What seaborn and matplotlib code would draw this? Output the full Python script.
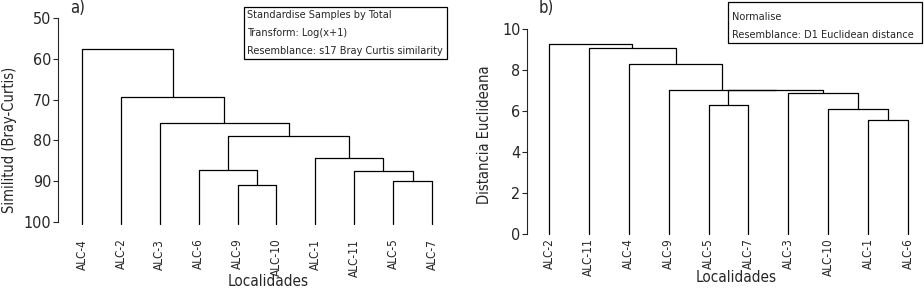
"""
Dendrogramas de localidades (ALC-1 ... ALC-11)
a) similitud Bray-Curtis, b) distancia euclideana.
"""

import matplotlib
matplotlib.use("Agg")

import matplotlib.pyplot as plt
import pandas as pd
import seaborn as sns
from matplotlib import font_manager
from matplotlib.patches import Rectangle

# ---------------------------------------------------------------------------
# Data
# merges: left child, right child, height; int children refer to earlier merges
# ---------------------------------------------------------------------------

BC_LEAVES = ["ALC-4", "ALC-2", "ALC-3", "ALC-6", "ALC-9", "ALC-10",
             "ALC-1", "ALC-11", "ALC-5", "ALC-7"]
BC_LEFT   = ["ALC-9", "ALC-6", "ALC-5", "ALC-11", "ALC-1", 1, "ALC-3", "ALC-2", "ALC-4"]
BC_RIGHT  = ["ALC-10", 0, "ALC-7", 2, 3, 4, 5, 6, 7]
BC_HEIGHT = [91.0, 87.3, 90.0, 87.6, 84.4, 79.0, 75.8, 69.4, 57.6]
BC_TICKS  = [50, 60, 70, 80, 90, 100]

EU_LEAVES = ["ALC-2", "ALC-11", "ALC-4", "ALC-9", "ALC-5", "ALC-7",
             "ALC-3", "ALC-10", "ALC-1", "ALC-6"]
EU_LEFT   = ["ALC-1", "ALC-10", "ALC-3", "ALC-5", 3, "ALC-9", "ALC-4", "ALC-11", "ALC-2"]
EU_RIGHT  = ["ALC-6", 0, 1, "ALC-7", 2, 4, 5, 6, 7]
EU_HEIGHT = [5.55, 6.12, 6.86, 6.27, 7.01, 7.01, 8.28, 9.06, 9.25]
EU_TICKS  = [0, 2, 4, 6, 8, 10]

BC_NOTE = ["Standardise Samples by Total", "Transform: Log(x+1)",
           "Resemblance: s17 Bray Curtis similarity"]
EU_NOTE = ["Normalise", "Resemblance: D1 Euclidean distance"]

W, H = 924, 290

sns.set_style("ticks")

# the original uses a condensed grotesque; take the narrowest face we have
_faces = {(f.name, f.stretch) for f in font_manager.fontManager.ttflist}
if any(n == "Liberation Sans Narrow" for n, _ in _faces):
    plt.rcParams["font.family"] = ["Liberation Sans Narrow", "DejaVu Sans"]
elif ("DejaVu Sans", "condensed") in _faces:
    plt.rcParams["font.family"] = ["DejaVu Sans"]
    plt.rcParams["font.stretch"] = "condensed"
else:
    plt.rcParams["font.family"] = ["Liberation Sans", "DejaVu Sans"]


def dendro_segments(leaves, left, right, height, base):
    pos = {name: (float(i), base) for i, name in enumerate(leaves)}
    rows = []
    for k, (a, b, h) in enumerate(zip(left, right, height)):
        xa, ha = pos[a]
        xb, hb = pos[b]
        for x, y in [(xa, ha), (xa, h), (xb, h), (xb, hb)]:
            rows.append({"link": k, "x": x, "y": y})
        pos[k] = ((xa + xb) / 2, h)
    return pd.DataFrame(rows)


def px_axes(fig, x0, y_top, x1, y_bot):
    return fig.add_axes([x0 / W, 1 - y_bot / H, (x1 - x0) / W, (y_bot - y_top) / H])


def draw_panel(ax, seg, leaves, ticks, ylim, xlim, pad):
    sns.lineplot(data=seg, x="x", y="y", units="link", estimator=None, sort=False,
                 color="black", lw=0.9, ax=ax, legend=False, clip_on=False)
    ax.set_xlim(*xlim)
    ax.set_ylim(*ylim)
    ax.set_yticks(ticks)
    ax.set_xticks(range(len(leaves)))
    ax.set_xticklabels(leaves, rotation=90, fontsize=8.5, va="top")
    ax.tick_params(axis="x", length=0, pad=pad)
    ax.tick_params(axis="y", length=3.8, width=0.8, pad=1, labelsize=11.5)
    ax.set_xlabel("")
    ax.set_ylabel("")
    sns.despine(ax=ax, bottom=True)
    ax.spines["left"].set_linewidth(0.8)


def note_box(fig, lines, x0, y0, x1, y1, tx, ty0, dy):
    fig.add_artist(Rectangle((x0 / W, 1 - y1 / H), (x1 - x0) / W, (y1 - y0) / H,
                             transform=fig.transFigure, fill=False,
                             edgecolor="black", lw=0.9))
    for i, line in enumerate(lines):
        fig.text(tx / W, 1 - (ty0 + i * dy) / H, line, fontsize=7.8,
                 ha="left", va="center")


fig = plt.figure(figsize=(W / 100, H / 100), dpi=100)

# a) Bray-Curtis
ax1 = px_axes(fig, 58, 18, 460, 222)
bc = dendro_segments(BC_LEAVES, BC_LEFT, BC_RIGHT, BC_HEIGHT, base=100.6)
draw_panel(ax1, bc, BC_LEAVES, BC_TICKS, (100, 50), (-0.62, 9.72), pad=12)

# b) Euclidean
ax2 = px_axes(fig, 527, 29, 924, 234)
eu = dendro_segments(EU_LEAVES, EU_LEFT, EU_RIGHT, EU_HEIGHT, base=0)
draw_panel(ax2, eu, EU_LEAVES, EU_TICKS, (0, 10), (-0.55, 9.4), pad=3)

fig.text(10 / W, 1 - 140 / H, "Similitud (Bray-Curtis)", rotation=90,
         fontsize=10.5, ha="center", va="center")
fig.text(485 / W, 1 - 135 / H, "Distancia Euclideana", rotation=90,
         fontsize=10.5, ha="center", va="center")
fig.text(268 / W, 1 - 281 / H, "Localidades", fontsize=11, ha="center", va="center")
fig.text(736 / W, 1 - 278 / H, "Localidades", fontsize=11, ha="center", va="center")
fig.text(78 / W, 1 - 8 / H, "a)", fontsize=12, ha="center", va="center")
fig.text(546 / W, 1 - 8 / H, "b)", fontsize=12, ha="center", va="center")

note_box(fig, BC_NOTE, 244, 7, 447, 59, 247, 15, 18)
note_box(fig, EU_NOTE, 728, 2, 922, 43, 732, 17, 18)

fig.savefig("out.png", dpi=100)
plt.close(fig)
